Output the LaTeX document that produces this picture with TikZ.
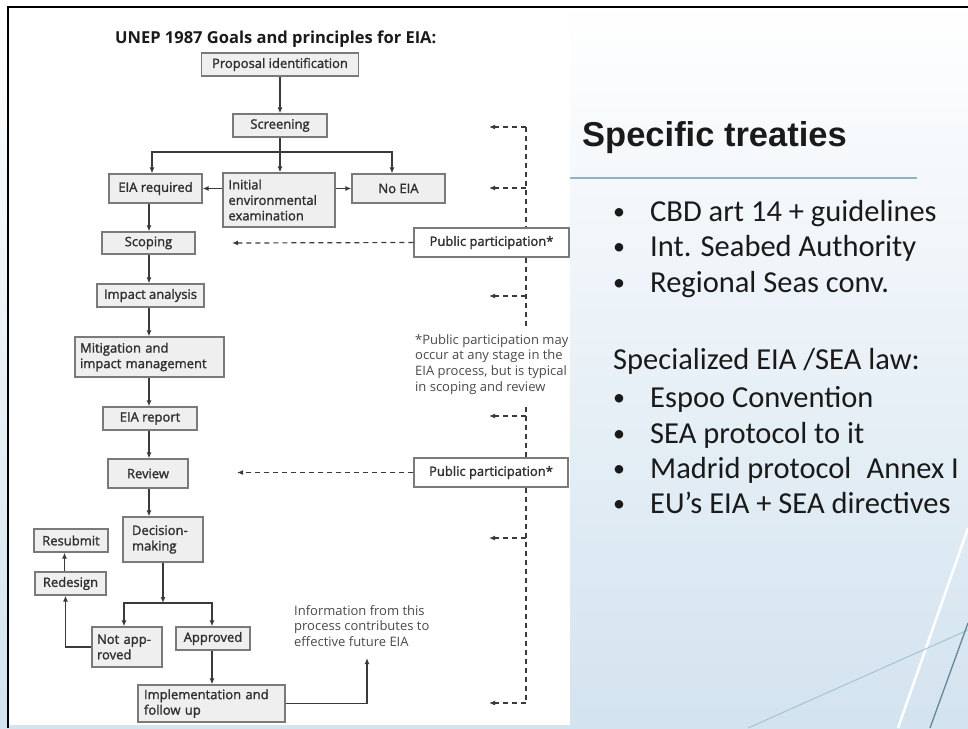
\documentclass[tikz,border=0pt]{standalone}
\usepackage{fontspec}
\setmainfont{Open Sans}
\newfontfamily\boxfont{Open Sans}[FakeBold=1.6]
\newfontfamily\calfont{Carlito}
\newfontfamily\arialfont{Liberation Sans}
\usetikzlibrary{arrows.meta}
\definecolor{boxfill}{HTML}{EFEFEF}
\definecolor{boxline}{HTML}{7A7A7A}
\definecolor{txt}{HTML}{303030}
\definecolor{arrc}{HTML}{3A3A3A}
\definecolor{graytxt}{HTML}{4A4A4A}
\definecolor{bgblue}{HTML}{D3E3EF}
\definecolor{rulec}{HTML}{8DB3C7}
\definecolor{darktext}{HTML}{1A1A1A}
\definecolor{decoblue}{HTML}{7FA9BE}
\tikzset{
  box/.style={draw=boxline, fill=boxfill, line width=1.2pt, text=txt,
    font=\boxfont\fontsize{13}{15.5}\selectfont, inner xsep=6pt, inner ysep=0pt},
  lbox/.style={box, align=left},
  ppbox/.style={box, fill=white},
  arr/.style={draw=arrc, line width=1.2pt, -{Latex[length=6pt,width=5pt]}},
  darr/.style={arr, dash pattern=on 5pt off 4pt},
  dline/.style={draw=arrc, line width=1.2pt, dash pattern=on 5pt off 4pt},
  note/.style={font=\fontsize{13}{15.7}\selectfont, text=graytxt, align=left, inner sep=0pt},
  rtext/.style={font=\calfont\fontsize{30.5}{36}\selectfont, text=darktext, inner sep=0pt, anchor=base west},
  rbul/.style={font=\calfont\fontsize{24}{36}\selectfont, text=darktext, inner sep=0pt, anchor=base west},
}
\begin{document}
\begin{tikzpicture}[x=1pt,y=-1pt]
\useasboundingbox (0,0) rectangle (968,728);
\shade[top color=white, bottom color=bgblue] (0,0) rectangle (968,728);
\fill[white] (8,7) rectangle (570,725);
% decorative lines
\draw[white, line width=2.5pt] (968,528) -- (898,728);
\draw[decoblue!70, line width=1pt] (968,630) -- (748,728);
\draw[decoblue!80!black, line width=1.3pt] (968,623) -- (930,728);
% frame
\draw[black, line width=2.2pt] (8,728) -- (8,7) -- (968,7);

% title
\node[anchor=base west, inner sep=0pt, font=\bfseries\fontsize{16.5}{20}\selectfont, text=darktext] (title) at (115,43) {UNEP 1987 Goals and principles for EIA:};

% boxes
\node[box, minimum width=157pt, minimum height=23pt] (prop) at (280,64.5) {Proposal identification};
\node[box, minimum width=94pt, minimum height=23pt] (scr) at (280,125.5) {Screening};
\node[box, minimum width=93pt, minimum height=29pt] (eiareq) at (155.5,188.5) {EIA required};
\node[lbox, inner xsep=5.5pt, text width=101pt, minimum height=54pt] (iee) at (279,200) {Initial\\environmental\\examination};
\node[box, minimum width=93pt, minimum height=29pt] (noeia) at (398.5,188.5) {No EIA};
\node[box, minimum width=93pt, minimum height=22pt] (scop) at (148.5,243) {Scoping};
\node[box, minimum width=107pt, minimum height=23pt] (impact) at (150.5,295.5) {Impact analysis};
\node[lbox, inner xsep=5pt, text width=139pt, minimum height=40pt] (mitig) at (149.5,357) {Mitigation and\\impact management};
\node[box, minimum width=94pt, minimum height=23pt] (report) at (150,418.5) {EIA report};
\node[box, minimum width=80pt, minimum height=29pt] (review) at (148,473.5) {Review};
\node[lbox, inner xsep=9pt, text width=62pt, minimum height=45pt] (decision) at (163,539.5) {Decision-\\making};
\node[box, minimum width=74pt, minimum height=23pt] (resub) at (71,540.5) {Resubmit};
\node[box, minimum width=71pt, minimum height=23pt] (redes) at (70.5,583.5) {Redesign};
\node[lbox, inner xsep=5pt, text width=60pt, minimum height=40pt] (notapp) at (127,647) {Not app-\\roved};
\node[box, minimum width=74pt, minimum height=23pt] (approved) at (213,638.5) {Approved};
\node[lbox, inner xsep=6pt, text width=135pt, minimum height=37pt] (impl) at (211.5,703.5) {Implementation and\\follow up};
\node[ppbox, minimum width=155pt, minimum height=29pt] (pp1) at (491.5,242.5) {Public participation*};
\node[ppbox, minimum width=154pt, minimum height=29pt] (pp2) at (491,472.5) {Public participation*};

% notes
\node[note, anchor=north west] (foot) at (415,334) {*Public participation may\\occur at any stage in the\\EIA process, but is typical\\in scoping and review};
\node[note, anchor=north west] (info) at (294,605) {Information from this\\process contributes to\\effective future EIA};

% solid connectors
\draw[arr] (prop.south) -- (scr.north);
\coordinate (br1) at (280,152);
\draw[arr] (scr.south) -- (iee.north -| scr.south);
\draw[arr] (br1) -| ([xshift=-3.5pt]eiareq.north);
\draw[arr] (br1) -| ([xshift=-6.5pt]noeia.north);
\draw[arr] (iee.west |- eiareq.east) -- (eiareq.east);
\draw[arr] (iee.east |- noeia.west) -- (noeia.west);
\coordinate (spine) at (149,0);
\draw[arr] (eiareq.south -| spine) -- (scop.north -| spine);
\draw[arr] (scop.south -| spine) -- (impact.north -| spine);
\draw[arr] (impact.south -| spine) -- (mitig.north -| spine);
\draw[arr] (mitig.south -| spine) -- (report.north -| spine);
\draw[arr] (report.south -| spine) -- (review.north -| spine);
\draw[arr] (review.south -| spine) -- (decision.north -| spine);
\coordinate (br2) at (163,603);
\draw[arr] (decision.south) -- (br2);
\draw[arr] (br2) -| ([xshift=-3pt]notapp.north);
\draw[arr] (br2) -| ([xshift=-1pt]approved.north);
\draw[arr] ([xshift=-1pt]approved.south) -- ([xshift=-1pt]approved.south |- impl.north);
\draw[arr] (notapp.west) -| ([xshift=-5pt]redes.south);
\draw[arr] ([xshift=-6pt]redes.north) -- ([xshift=-6pt]redes.north |- resub.south);
\coordinate (infoin) at (367,658);
\draw[arr] (impl.east) -| (infoin);

% dashed public participation structure
\coordinate (vtop) at (526,127);
\coordinate (vgap1) at (526,328);
\coordinate (vgap2) at (526,407);
\coordinate (vbot) at (526,703);
\draw[dline] (vtop) -- (vtop |- pp1.north);
\draw[dline] (vtop |- pp1.south) -- (vgap1);
\draw[dline] (vgap2) -- (vgap2 |- pp2.north);
\draw[dline] (vgap2 |- pp2.south) -- (vbot);
\foreach \yy [count=\i] in {127,188,296,416,538,703}{
  \coordinate (ds\i) at (526,\yy);
  \coordinate (de\i) at (489,\yy);
  \draw[darr] (ds\i) -- (de\i);
}
\coordinate (scin) at (232,243);
\coordinate (rvin) at (237,472.5);
\draw[darr] (pp1.west) -- (scin);
\draw[darr] (pp2.west) -- (rvin);

% right side
\node[anchor=base west, inner sep=0pt, font=\arialfont\bfseries\fontsize{34.5}{40}\selectfont, text=darktext] (head) at (582,146) {Specific treaties};
\draw[rulec, line width=1.5pt] (570,178) -- (917,178);
\foreach \yy/\tt [count=\i] in {221/{CBD art 14 + guidelines},256/{Int. Seabed Authority},292/{Regional Seas conv.},407/{Espoo Convention},443/{SEA protocol to it},478/{Madrid protocol\hspace{0.5em}Annex I},513/{EU’s EIA + SEA directives}}{
  \node[rbul] (bul\i) at (613,\yy-2) {•};
  \node[rtext] (item\i) at (650,\yy) {\tt};
}
\node[rtext] (spec) at (613,369) {Specialized EIA /SEA law:};
\end{tikzpicture}
\end{document}
